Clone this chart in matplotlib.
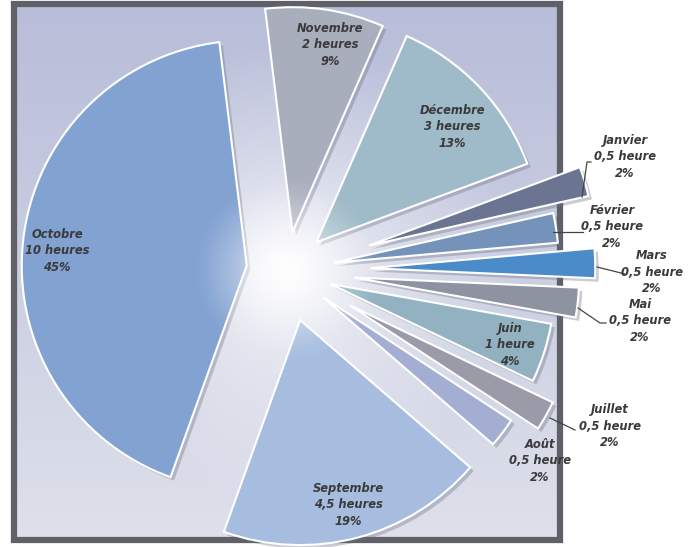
import numpy as np
import matplotlib
matplotlib.use("Agg")
import matplotlib.pyplot as plt
import matplotlib.patheffects as pe
from matplotlib.patches import Rectangle

# heures par mois
months = ["Novembre", "Décembre", "Janvier", "Février", "Mars", "Mai",
          "Juin", "Juillet", "Août", "Septembre", "Octobre"]
hours = [2, 3, 0.5, 0.5, 0.5, 0.5, 1, 0.5, 0.5, 4.5, 10]
percents = [9, 13, 2, 2, 2, 2, 4, 2, 2, 19, 45]

colors = ["#a9aebd", "#9fbac9", "#6b7592", "#7592bb", "#4b8bc9", "#8e93a1",
          "#92b2c2", "#9b9aa8", "#a3aed2", "#a6bde0", "#82a2d2"]
explode = [0.17, 0.18, 0.38, 0.21, 0.37, 0.30, 0.20, 0.32, 0.20, 0.23, 0.18]

W, H = 696, 547
cx, cy = 287, 277
R = 225

fig = plt.figure(figsize=(W / 100, H / 100), dpi=100)
ax = fig.add_axes([0, 0, 1, 1])

# pie() offsets wedges in data units, so scale by the radius
wedges, _ = ax.pie(hours, explode=[e * R for e in explode], colors=colors,
                   startangle=97.0, counterclock=False, radius=R, center=(cx, cy),
                   wedgeprops=dict(edgecolor="white", linewidth=1.5))
for w in wedges:
    w.set_zorder(2)
    w.set_path_effects([pe.SimplePatchShadow(offset=(2.5, -2.5), shadow_rgbFace="#6a6d80", alpha=0.35),
                        pe.Normal()])

ax.set_xlim(0, W)
ax.set_ylim(0, H)
ax.set_aspect("equal")
ax.axis("off")

# plot area background: lavender fading to white at the middle
x0, x1, y0, y1 = 14, 560, 7, 543
gx, gy = np.meshgrid(np.linspace(x0, x1, 300), np.linspace(y0, y1, 300))
d = np.hypot(gx - cx, gy - cy)
t = np.clip(d / 230, 0, 1) ** 0.55
top = np.array([0.72, 0.74, 0.85])
bottom = np.array([0.87, 0.88, 0.92])
v = ((gy - y0) / (y1 - y0))[..., None]
edge = bottom * (1 - v) + top * v
bg = (1 - t[..., None]) * 1.0 + t[..., None] * edge
ax.imshow(bg, extent=(x0, x1, y0, y1), origin="lower", zorder=0, aspect="auto")
ax.add_patch(Rectangle((x0, y0), x1 - x0, y1 - y0, fill=False,
                       edgecolor="#5f6068", lw=4.5, zorder=0.5))

# white glow over the middle of the pie
gx2, gy2 = np.meshgrid(np.linspace(cx - 120, cx + 120, 200), np.linspace(cy - 120, cy + 120, 200))
d2 = np.hypot(gx2 - cx, gy2 - cy)
glow = np.zeros(d2.shape + (4,))
glow[..., :3] = 1.0
glow[..., 3] = np.clip(1 - d2 / 95, 0, 1) ** 1.3 * 0.95
ax.imshow(glow, extent=(cx - 120, cx + 120, cy - 120, cy + 120), origin="lower",
          zorder=3, aspect="auto")


def hour_text(h):
    unit = "heure" if h <= 1 else "heures"
    return f"{h:g}".replace(".", ",") + " " + unit


label_pos = [(330, 502), (452, 420), (625, 390), (612, 320), (652, 275), (640, 226),
             (510, 202), (610, 121), (540, 86), (348, 42), (57, 296)]
for m, h, p, (lx, ly) in zip(months, hours, percents, label_pos):
    ax.text(lx, ly, f"{m}\n{hour_text(h)}\n{p}%", ha="center", va="center",
            fontsize=8.3, fontweight="bold", style="italic", color="#3a3a3a",
            linespacing=1.35, zorder=5)

# leader lines for the small slices
leaders = [
    [(582, 350), (587, 385), (591, 385)],
    [(553, 315), (583, 315)],
    [(597, 280), (625, 273)],
    [(578, 239), (600, 224), (606, 224)],
    [(550, 129), (575, 117)],
]
for seg in leaders:
    xs, ys = zip(*seg)
    ax.plot(xs, ys, color="#444444", lw=0.9, zorder=4)

fig.savefig("out.png", dpi=100, facecolor="white")
